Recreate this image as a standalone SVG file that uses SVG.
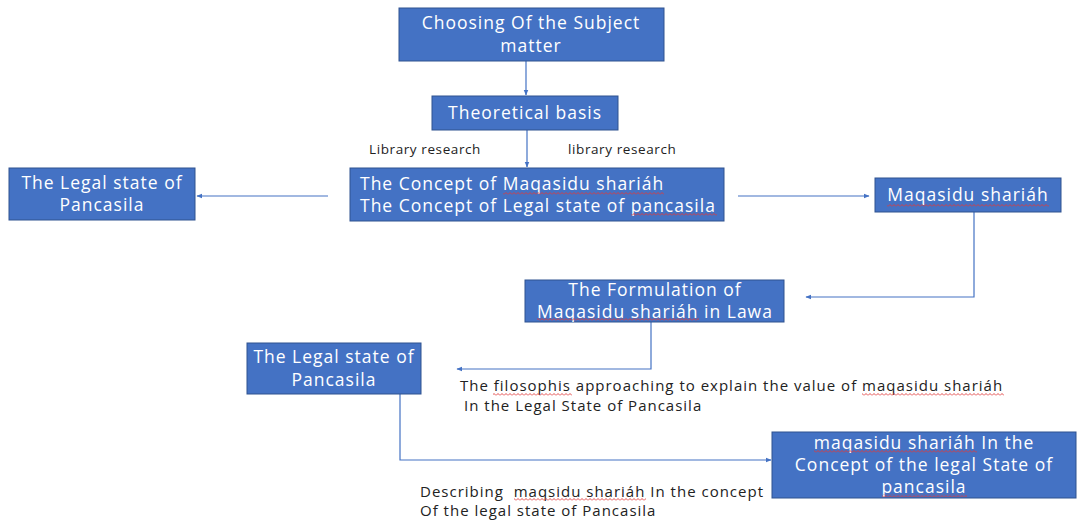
<svg xmlns="http://www.w3.org/2000/svg" width="1078" height="520" viewBox="0 0 1078 520">
<style>
.box{fill:#4472C4;stroke:#2F528F;stroke-width:1}
.t{font-family:"Open Sans","Liberation Sans",sans-serif;font-size:17.5px;letter-spacing:1px;fill:#fff}
.c{text-anchor:middle}
.lbl{font-family:"Open Sans","Liberation Sans",sans-serif;font-size:15px;letter-spacing:1px;fill:#222;white-space:pre}
.sm{font-size:13.5px;letter-spacing:0.6px}
.ln{fill:none;stroke:#4472C4;stroke-width:1.2}
.sp{fill:url(#wave)}
</style>
<defs>
<marker id="ah" viewBox="0 0 10 10" refX="9" refY="5" markerWidth="6" markerHeight="6" orient="auto-start-reverse" markerUnits="userSpaceOnUse">
<path d="M0,1 L10,5 L0,9 z" fill="#4472C4"/>
</marker>
<pattern id="wave" x="0" y="0" width="4" height="3" patternUnits="userSpaceOnUse">
<path d="M0,2.5 L2,0.5 L4,2.5" fill="none" stroke="#e03a3a" stroke-width="0.9"/>
</pattern>
</defs>
<g id="connectors">
<line class="ln" x1="526" y1="61" x2="526" y2="95" marker-end="url(#ah)"/>
<line class="ln" x1="527" y1="130" x2="527" y2="167" marker-end="url(#ah)"/>
<line class="ln" x1="328" y1="196" x2="197" y2="196" marker-end="url(#ah)"/>
<line class="ln" x1="738" y1="196" x2="869" y2="196" marker-end="url(#ah)"/>
<polyline class="ln" points="974,212 974,297 806,297" marker-end="url(#ah)"/>
<polyline class="ln" points="651,322 651,369 457,369" marker-end="url(#ah)"/>
<polyline class="ln" points="400,394 400,460 771,460" marker-end="url(#ah)"/>
</g>
<g id="n1">
<rect class="box" x="399" y="8" width="265" height="53"/>
<text class="t c" x="531" y="29">Choosing Of the Subject</text>
<text class="t c" x="531" y="52">matter</text>
</g>
<g id="n2">
<rect class="box" x="432" y="96" width="186" height="34"/>
<text class="t c" x="525" y="119">Theoretical basis</text>
</g>
<g id="lbl-lib">
<text class="lbl sm" x="369" y="154">Library research</text>
<text class="lbl sm" x="568" y="154">library research</text>
</g>
<g id="n3">
<rect class="box" x="350" y="168" width="374" height="53"/>
<text class="t" x="360" y="190">The Concept of Maqasidu shariáh</text>
<text class="t" x="360" y="212">The Concept of Legal state of pancasila</text>
<rect class="sp" x="503" y="192" width="161" height="3"/>
<rect class="sp" x="631" y="213" width="86" height="3"/>
</g>
<g id="n4">
<rect class="box" x="9" y="168" width="186" height="52"/>
<text class="t c" x="102" y="189">The Legal state of</text>
<text class="t c" x="102" y="211">Pancasila</text>
</g>
<g id="n5">
<rect class="box" x="875" y="178" width="186" height="34"/>
<text class="t c" x="968" y="201">Maqasidu shariáh</text>
<rect class="sp" x="887" y="204" width="162" height="3"/>
</g>
<g id="n6">
<rect class="box" x="525" y="280" width="259" height="42"/>
<text class="t c" x="655" y="296">The Formulation of</text>
<text class="t c" x="655" y="318">Maqasidu shariáh in Lawa</text>
<rect class="sp" x="537" y="318" width="162" height="3"/>
</g>
<g id="n7">
<rect class="box" x="247" y="343" width="174" height="51"/>
<text class="t c" x="334" y="363">The Legal state of</text>
<text class="t c" x="334" y="386">Pancasila</text>
</g>
<g id="lbl-filo">
<text class="lbl" x="460" y="391">The filosophis approaching to explain the value of maqasidu shariáh</text>
<text class="lbl" x="464" y="411">In the Legal State of Pancasila</text>
<rect class="sp" x="493" y="393" width="79" height="3"/>
<rect class="sp" x="862" y="393" width="142" height="3"/>
</g>
<g id="n8">
<rect class="box" x="772" y="432" width="304" height="66"/>
<text class="t c" x="924" y="449">maqasidu shariáh In the</text>
<text class="t c" x="924" y="471">Concept of the legal State of</text>
<text class="t c" x="924" y="493">pancasila</text>
<rect class="sp" x="814" y="450" width="163" height="3"/>
<rect class="sp" x="882" y="494" width="85" height="3"/>
</g>
<g id="lbl-desc">
<text class="lbl" x="420" y="497">Describing  maqsidu shariáh In the concept</text>
<text class="lbl" x="420" y="516">Of the legal state of Pancasila</text>
<rect class="sp" x="514" y="498" width="132" height="3"/>
</g>
</svg>
